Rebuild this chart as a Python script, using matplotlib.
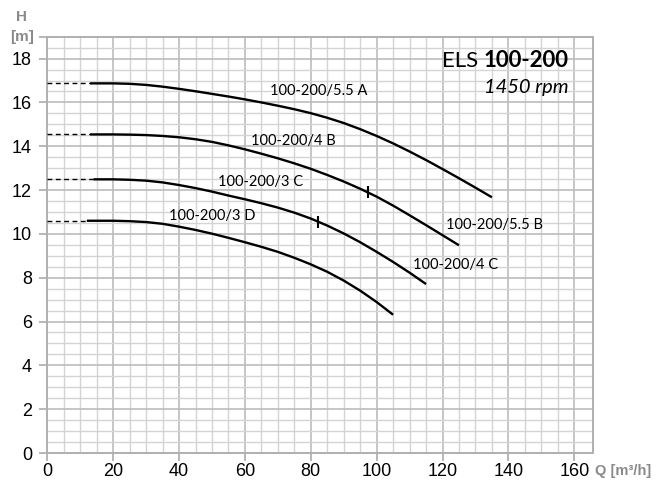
import matplotlib
matplotlib.use("Agg")
import matplotlib.pyplot as plt
from matplotlib.ticker import MultipleLocator, FixedLocator

# ---- data ----
qA = [13, 20, 25, 30, 35, 40, 45, 50, 55, 60, 65, 70, 75, 80, 85, 90, 95, 100,
      105, 110, 115, 120, 125, 130, 135]
hA = [16.87, 16.87, 16.85, 16.80, 16.72, 16.62, 16.51, 16.39, 16.27, 16.14, 16.00,
      15.85, 15.69, 15.51, 15.30, 15.06, 14.78, 14.47, 14.13, 13.76, 13.37, 12.96,
      12.54, 12.11, 11.67]
qB = [13, 20, 25, 30, 35, 40, 45, 50, 55, 60, 65, 70, 75, 80, 85, 90, 95, 100,
      105, 110, 115, 120, 125]
hB = [14.54, 14.54, 14.53, 14.51, 14.47, 14.41, 14.32, 14.20, 14.04, 13.86, 13.66,
      13.45, 13.22, 12.97, 12.69, 12.39, 12.06, 11.70, 11.29, 10.85, 10.40, 9.94, 9.48]
qC = [14, 20, 25, 30, 35, 40, 45, 50, 55, 60, 65, 70, 75, 80, 85, 90, 95, 100,
      105, 110, 115]
hC = [12.49, 12.49, 12.47, 12.43, 12.35, 12.23, 12.09, 11.93, 11.75, 11.58, 11.40,
      11.20, 10.97, 10.70, 10.38, 10.02, 9.62, 9.18, 8.72, 8.23, 7.71]
qD = [12, 20, 25, 30, 35, 40, 45, 50, 55, 60, 65, 70, 75, 80, 85, 90, 95, 100, 105]
hD = [10.60, 10.60, 10.58, 10.54, 10.46, 10.33, 10.18, 10.01, 9.82, 9.62, 9.41,
      9.18, 8.91, 8.61, 8.27, 7.87, 7.41, 6.89, 6.31]

# marks on curves
mark_q = [97.3, 82.3]
mark_h = [11.9, 10.55]

labels = ["100-200/5.5 A", "100-200/4 B", "100-200/3 C", "100-200/3 D",
          "100-200/5.5 B", "100-200/4 C"]
label_q = [82.5, 74.6, 64.8, 50.0, 135.8, 123.9]
label_h = [16.52, 14.22, 12.37, 10.82, 10.39, 8.6]

x_ticks = [0, 20, 40, 60, 80, 100, 120, 140, 160]
y_ticks = [0, 2, 4, 6, 8, 10, 12, 14, 16, 18]

# ---- figure ----
W, H = 666, 482
fig = plt.figure(figsize=(W / 100, H / 100), dpi=100)
L, R, B, T = 47.3, 592.7, 453.0, 36.7
ax = fig.add_axes([L / W, 1 - B / H, (R - L) / W, (B - T) / H])
ax.set_xlim(0, 165.6)
ax.set_ylim(0, 19)

tickfont = ['Liberation Sans Narrow', 'Liberation Sans', 'DejaVu Sans']
labfont = ['Lato', 'DejaVu Sans']
boldfont = ['Liberation Sans', 'DejaVu Sans']

ax.xaxis.set_major_locator(FixedLocator(x_ticks))
ax.yaxis.set_major_locator(FixedLocator(y_ticks + [19]))
ax.xaxis.set_minor_locator(FixedLocator([v for v in range(0, 165, 5)]))
ax.yaxis.set_minor_locator(MultipleLocator(0.5))
ax.set_xticklabels([str(v) for v in x_ticks], family=tickfont, fontsize=13)
ax.set_yticklabels([str(v) for v in y_ticks] + [''], family=tickfont, fontsize=13)

ax.grid(which='minor', color='#d4d4d4', lw=1.0, zorder=0)
ax.grid(which='major', color='#bcbcbc', lw=1.2, zorder=0)
ax.set_axisbelow(True)
ax.tick_params(which='minor', length=0)
ax.tick_params(axis='x', which='major', length=6, width=1.2, color='#aaaaaa', pad=1.5)
ax.tick_params(axis='y', which='major', length=6, width=1.2, color='#aaaaaa', pad=5)
for s in ax.spines.values():
    s.set_color('#b0b0b0')
    s.set_linewidth(1.4)

curves = [(qA, hA), (qB, hB), (qC, hC), (qD, hD)]
for q, h in curves:
    ax.plot([0, q[0]], [h[0], h[0]], color='black', lw=1.0, ls=(0, (3.5, 2.5)), zorder=3)
    ax.plot(q, h, color='black', lw=1.7, solid_capstyle='butt',
            solid_joinstyle='round', zorder=3)

ax.plot(mark_q, mark_h, ls='none', marker='|', ms=8, mew=1.5, color='black', zorder=4)

for t, xq, yh in zip(labels, label_q, label_h):
    ax.text(xq, yh, t, ha='center', va='center', fontsize=10.5, family=labfont, zorder=5)

# title
tb = ax.text(158.3, 17.9, "100-200", ha='right', va='center', fontsize=16,
             fontweight='bold', family=labfont)
ax.annotate("ELS", xy=(0, 0.5), xycoords=tb, xytext=(-4, 0), textcoords='offset points',
            ha='right', va='center', fontsize=16, family=labfont)
ax.text(158.3, 16.7, "1450 rpm", ha='right', va='center', fontsize=14.5,
        style='italic', family=labfont)

# axis labels
fig.text(21.7 / W, 1 - 16.7 / H, "H", ha='center', va='center', fontsize=11,
         fontweight='bold', color='#8a8a8a', family=boldfont)
fig.text(21.7 / W, 1 - 37.3 / H, "[m]", ha='center', va='center', fontsize=11,
         fontweight='bold', color='#8a8a8a', family=boldfont)
fig.text(595 / W, 1 - 471 / H, "Q [m³/h]", ha='left', va='center', fontsize=10.5,
         fontweight='bold', color='#8a8a8a', family=boldfont)

fig.savefig("out.png", dpi=100)
